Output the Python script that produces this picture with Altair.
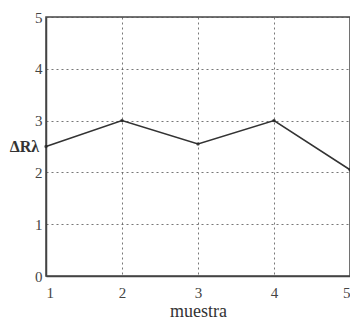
import altair as alt
import pandas as pd

muestra = [1, 2, 3, 4, 5]
delta_r = [2.5, 3.0, 2.55, 3.0, 2.05]
x_ticks = [1, 2, 3, 4, 5]
y_ticks = [0, 1, 2, 3, 4, 5]

df = pd.DataFrame({"muestra": muestra, "dr": delta_r})

FONT = "Liberation Serif"

base = alt.Chart(df)

line = base.mark_line(color="#333333", strokeWidth=1.6).encode(
    x=alt.X("muestra:Q",
            scale=alt.Scale(domain=[1, 5], nice=False, zero=False),
            axis=alt.Axis(values=x_ticks, format="d", title="muestra",
                          grid=True, gridDash=[2, 3], gridColor="#555555",
                          gridOpacity=0.8, domainColor="#444444", domainWidth=1.5,
                          tickSize=0, labelPadding=9, labelFontSize=15,
                          labelColor="#444444", titleFontSize=18,
                          titleFontWeight="normal", titleColor="#333333",
                          titlePadding=2, labelFont=FONT, titleFont=FONT)),
    y=alt.Y("dr:Q",
            scale=alt.Scale(domain=[0, 5], nice=False),
            axis=alt.Axis(values=y_ticks, format="d", title="ΔRλ",
                          grid=True, gridDash=[2, 3], gridColor="#555555",
                          gridOpacity=0.8, domainColor="#444444", domainWidth=1.5,
                          tickSize=0, labelPadding=4, labelFontSize=15,
                          labelColor="#444444", titleFontSize=16,
                          titleFontWeight="bold", titleColor="#333333",
                          titleAngle=0, titleX=-22, titleY=129,
                          titleAlign="center", titleBaseline="middle",
                          labelFont=FONT, titleFont=FONT)),
)

pts = base.mark_point(filled=True, color="#222222", size=12).encode(
    x="muestra:Q", y="dr:Q"
)

chart = (line + pts).properties(
    width=304, height=259,
    padding={"left": 38, "top": 9, "right": 0, "bottom": 43},
    autosize=alt.AutoSizeParams(type="none"),
).configure_view(stroke="#444444", strokeWidth=1.5)

chart.save("out.html", embed_options={"renderer": "svg", "actions": False})
